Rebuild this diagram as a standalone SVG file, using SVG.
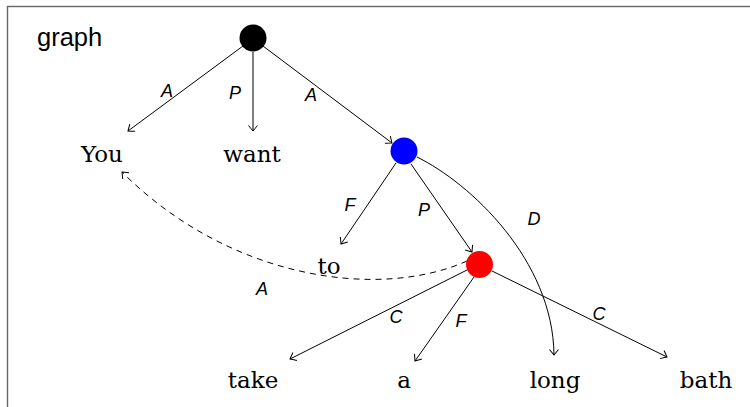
<svg xmlns="http://www.w3.org/2000/svg" width="750" height="407" viewBox="0 0 750 407">
<defs>
<marker id="arr" viewBox="-7 -6 9 12" markerWidth="9" markerHeight="12" refX="0" refY="0" orient="auto" markerUnits="userSpaceOnUse">
<path d="M -5.5 -4.5 Q -1.5 -1.2 0 0 Q -1.5 1.2 -5.5 4.5" fill="none" stroke="#000" stroke-width="1"/>
</marker>
<style>
.e{fill:none;stroke:#000;stroke-width:1;marker-end:url(#arr)}
.d{stroke-dasharray:6 5}
.w{font-family:"DejaVu Serif",serif;font-size:23px;text-anchor:middle;fill:#000}
.l{font-family:"Liberation Sans",sans-serif;font-style:italic;font-size:18px;text-anchor:middle;fill:#000}
</style>
</defs>
<rect x="7.5" y="6.5" width="760" height="420" fill="#fff" stroke="#666" stroke-width="1.4"/>
<text x="37" y="46" font-family="Liberation Sans, sans-serif" font-size="25.5" fill="#000">graph</text>
<g id="connectors">
<path class="e" d="M 243 46 L 128 131"/>
<path class="e" d="M 253 52 L 253 131"/>
<path class="e" d="M 263 46 L 392 143"/>
<path class="e" d="M 396 163 L 341 244"/>
<path class="e" d="M 411 164 L 472 252"/>
<path class="e" d="M 417 157 C 470 183 553 260 554 355"/>
<path class="e" d="M 467 270 L 290 359"/>
<path class="e" d="M 474 277 L 415 361"/>
<path class="e" d="M 492 271 L 667 357"/>
<path class="e d" d="M 467 261 C 380 300 230 280 122 172"/>
<text class="l" x="167" y="97">A</text>
<text class="l" x="235" y="99">P</text>
<text class="l" x="311" y="101">A</text>
<text class="l" x="350" y="211">F</text>
<text class="l" x="424" y="216">P</text>
<text class="l" x="534" y="225">D</text>
<text class="l" x="262" y="295">A</text>
<text class="l" x="396" y="323">C</text>
<text class="l" x="461" y="327">F</text>
<text class="l" x="599" y="320">C</text>
</g>
<g id="root"><circle cx="253" cy="38" r="13.5" fill="#000"/></g>
<g id="blue"><circle cx="404" cy="151" r="13.5" fill="#00f"/></g>
<g id="red"><circle cx="479.5" cy="264.5" r="13.5" fill="#f00"/></g>
<g id="You"><text class="w" x="102" y="162">You</text></g>
<g id="want"><text class="w" x="252" y="162">want</text></g>
<g id="to"><text class="w" x="329" y="274">to</text></g>
<g id="take"><text class="w" x="253" y="388">take</text></g>
<g id="a"><text class="w" x="404" y="388">a</text></g>
<g id="long"><text class="w" x="555" y="388">long</text></g>
<g id="bath"><text class="w" x="706" y="388">bath</text></g>
</svg>
